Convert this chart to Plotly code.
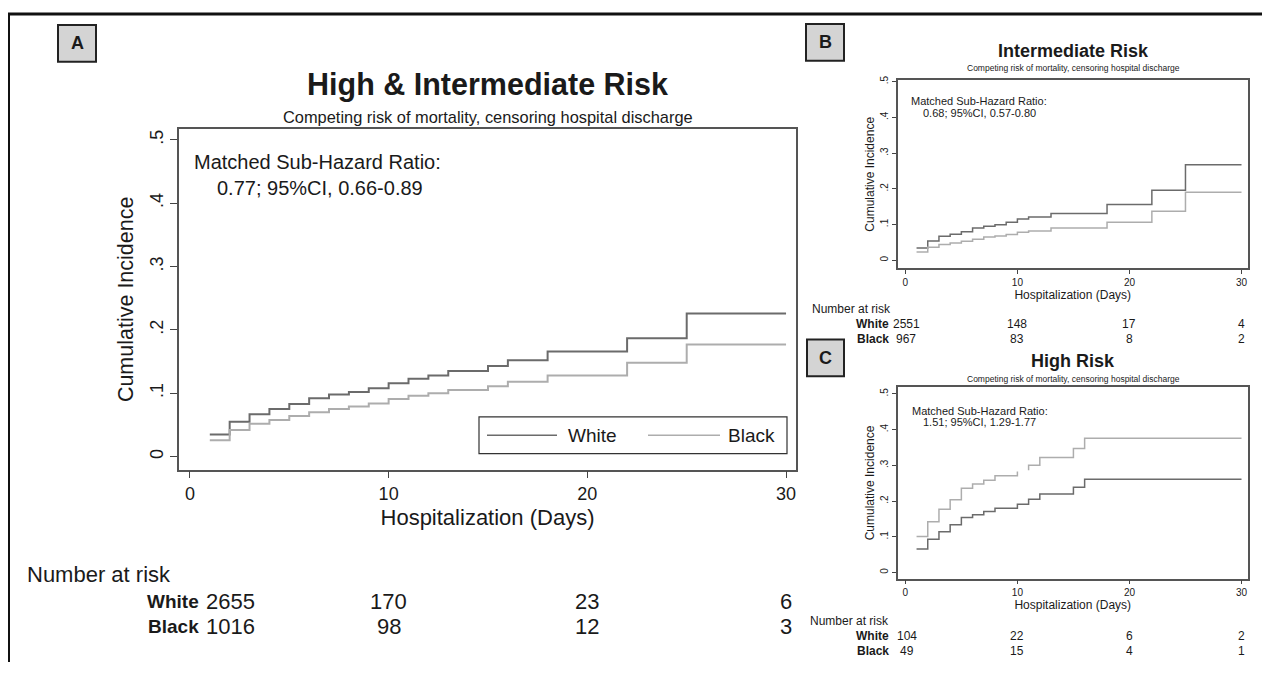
import plotly.graph_objects as go

# page has an 8px body margin; figure fills the rest of the 1270x673 window
OFF = 8
W, H = 1262, 665

# ---------------- data ----------------
days_A = [1, 2, 3, 4, 5, 6, 7, 8, 9, 10, 11, 12, 13, 15, 16, 18, 22, 25, 30]
white_A = [0.035, 0.055, 0.067, 0.075, 0.083, 0.092, 0.098, 0.102, 0.108, 0.116,
           0.123, 0.128, 0.135, 0.143, 0.152, 0.166, 0.187, 0.226, 0.226]
black_A = [0.026, 0.042, 0.052, 0.058, 0.064, 0.070, 0.075, 0.079, 0.084, 0.091,
           0.096, 0.100, 0.105, 0.111, 0.118, 0.128, 0.148, 0.177, 0.177]

days_B = [1, 2, 3, 4, 5, 6, 7, 8, 9, 10, 11, 13, 18, 22, 25, 30]
white_B = [0.034, 0.054, 0.067, 0.073, 0.080, 0.090, 0.095, 0.099, 0.106, 0.115,
           0.121, 0.131, 0.156, 0.196, 0.267, 0.267]
black_B = [0.023, 0.036, 0.044, 0.048, 0.053, 0.059, 0.065, 0.068, 0.072, 0.078,
           0.082, 0.090, 0.106, 0.137, 0.190, 0.190]

days_C_white = [1, 2, 3, 4, 5, 6, 7, 8, 10, 11, 12, 15, 16, 30]
white_C = [0.066, 0.093, 0.114, 0.134, 0.154, 0.162, 0.171, 0.180, 0.191, 0.205,
           0.220, 0.239, 0.261, 0.261]
days_C_black = [1, 2, 3, 4, 5, 6, 7, 8, 10, None, 11, 11, 12, 15, 16, 30]
black_C = [0.101, 0.142, 0.177, 0.204, 0.236, 0.248, 0.258, 0.271, 0.283, None,
           0.286, 0.300, 0.322, 0.347, 0.376, 0.376]

risk_times = [0, 10, 20, 30]
risk_white_A = [2655, 170, 23, 6]
risk_black_A = [1016, 98, 12, 3]
risk_white_B = [2551, 148, 17, 4]
risk_black_B = [967, 83, 8, 2]
risk_white_C = [104, 22, 6, 2]
risk_black_C = [49, 15, 4, 1]

x_ticks = [0, 10, 20, 30]
y_ticks = [0, 0.1, 0.2, 0.3, 0.4, 0.5]
y_ticklabels = ["0", ".1", ".2", ".3", ".4", ".5"]

COL_WHITE = "#6b6b6b"
COL_BLACK = "#adadad"
TXT = "#1a1a1a"
FONT = "Liberation Sans, Arial, sans-serif"


def px(x):
    return (x - OFF) / W


def py(y):
    return 1 - (y - OFF) / H


fig = go.Figure()


def add_steps(x, y, color, width, ax):
    fig.add_trace(go.Scatter(x=x, y=y, mode="lines", line=dict(color=color, width=width, shape="hv"),
                             connectgaps=False, showlegend=False, hoverinfo="skip",
                             xaxis="x" + ax, yaxis="y" + ax))


add_steps(days_A, white_A, COL_WHITE, 2, "")
add_steps(days_A, black_A, COL_BLACK, 2, "")
add_steps(days_B, white_B, COL_WHITE, 1.5, "2")
add_steps(days_B, black_B, COL_BLACK, 1.5, "2")
add_steps(days_C_white, white_C, COL_WHITE, 1.5, "3")
add_steps(days_C_black, black_C, COL_BLACK, 1.5, "3")


def xaxis(domain, rng, fsize, tlen, title, tfont, standoff, anchor):
    return dict(domain=domain, range=rng, tickvals=x_ticks, ticktext=[str(v) for v in x_ticks],
                ticks="outside", ticklen=tlen, tickcolor="#444", tickwidth=1,
                showline=True, mirror=True, linecolor="#555", linewidth=1.5,
                showgrid=False, zeroline=False, anchor=anchor,
                tickfont=dict(size=fsize, color=TXT, family=FONT),
                title=dict(text=title, font=dict(size=tfont, color=TXT, family=FONT), standoff=standoff))


def yaxis(domain, rng, fsize, tlen, title, tfont, standoff, anchor):
    return dict(domain=domain, range=rng, tickvals=y_ticks, ticktext=y_ticklabels,
                ticks="outside", ticklen=tlen, tickcolor="#444", tickwidth=1, tickangle=-90,
                showline=True, mirror=True, linecolor="#555", linewidth=1.5,
                showgrid=False, zeroline=False, anchor=anchor,
                tickfont=dict(size=fsize, color=TXT, family=FONT),
                title=dict(text=title, font=dict(size=tfont, color=TXT, family=FONT), standoff=standoff))


dom_x_A = [px(179), px(796)]
dom_y_A = [py(468), py(125)]
dom_x_BC = [px(897.5), px(1248)]
dom_y_B = [py(265), py(76)]
dom_y_C = [py(578), py(385)]

fig.update_layout(
    width=W, height=H, margin=dict(l=0, r=0, t=0, b=0),
    paper_bgcolor="white", plot_bgcolor="white",
    font=dict(family=FONT, color=TXT),
    showlegend=False,
    xaxis=xaxis(dom_x_A, [-0.55, 30.5], 18, 7, "Hospitalization (Days)", 22, 7, "y"),
    yaxis=yaxis(dom_y_A, [-0.0204, 0.517], 18, 7, "Cumulative Incidence", 21.5, 8, "x"),
    xaxis2=xaxis(dom_x_BC, [-0.7, 30.58], 10, 4, "Hospitalization (Days)", 12, 2, "y2"),
    yaxis2=yaxis(dom_y_B, [-0.022, 0.503], 10, 4, "Cumulative Incidence", 12, 2, "x2"),
    xaxis3=xaxis(dom_x_BC, [-0.7, 30.58], 10, 4, "Hospitalization (Days)", 12, 2, "y3"),
    yaxis3=yaxis(dom_y_C, [-0.0175, 0.519], 10, 4, "Cumulative Incidence", 12, 2, "x3"),
)

ann = []
shapes = []


def text(x, y, s, size, anchor="center", bold=False, xref="paper", yref="paper", xshift=0, color=TXT):
    ann.append(dict(x=x, y=y, xref=xref, yref=yref, text=("<b>%s</b>" % s) if bold else s,
                    showarrow=False, xanchor=anchor, yanchor="middle", xshift=xshift,
                    font=dict(size=size, color=color, family=FONT)))


# outer frame (top and left rules)
shapes.append(dict(type="line", xref="paper", yref="paper", x0=px(8), x1=1, y0=py(9), y1=py(9),
                   line=dict(color="#111", width=3)))
shapes.append(dict(type="line", xref="paper", yref="paper", x0=px(9), x1=px(9), y0=py(8), y1=py(662),
                   line=dict(color="#111", width=2)))

# panel letter boxes
for letter, (x0, y0, x1, y1) in {"A": (58, 20, 96, 57), "B": (806, 19, 844, 56), "C": (807, 337, 844, 374)}.items():
    shapes.append(dict(type="rect", xref="paper", yref="paper", x0=px(x0), x1=px(x1), y0=py(y1), y1=py(y0),
                       fillcolor="#d4d4d4", line=dict(color="#222", width=2), layer="above"))
    text(px((x0 + x1) / 2), py((y0 + y1) / 2), letter, 18, bold=True)

# titles
text(px(487.5), py(80), "High &amp; Intermediate Risk", 30.5, bold=True)
text(px(487.5), py(113), "Competing risk of mortality, censoring hospital discharge", 16.4)
text(px(1073), py(46), "Intermediate Risk", 18, bold=True)
text(px(1073), py(63), "Competing risk of mortality, censoring hospital discharge", 8.5)
text(px(1073), py(359), "High Risk", 18, bold=True)
text(px(1073), py(377), "Competing risk of mortality, censoring hospital discharge", 8.5)

# SHR annotations
text(px(192), py(158), "Matched Sub-Hazard Ratio:", 20, anchor="left")
text(px(215), py(184), "0.77; 95%CI, 0.66-0.89", 20, anchor="left")
text(px(909), py(97), "Matched Sub-Hazard Ratio:", 11, anchor="left")
text(px(921), py(109), "0.68; 95%CI, 0.57-0.80", 11, anchor="left")
text(px(910), py(409), "Matched Sub-Hazard Ratio:", 11, anchor="left")
text(px(921), py(420), "1.51; 95%CI, 1.29-1.77", 11, anchor="left")

# legend in A
shapes.append(dict(type="rect", xref="paper", yref="paper", x0=px(479), x1=px(787), y0=py(452), y1=py(415),
                   fillcolor="white", line=dict(color="#333", width=1.2)))
shapes.append(dict(type="line", xref="paper", yref="paper", x0=px(487), x1=px(557), y0=py(433.5), y1=py(433.5),
                   line=dict(color=COL_WHITE, width=1.5)))
shapes.append(dict(type="line", xref="paper", yref="paper", x0=px(648), x1=px(720), y0=py(433.5), y1=py(433.5),
                   line=dict(color=COL_BLACK, width=1.5)))
text(px(566), py(433.5), "White", 19, anchor="left")
text(px(777), py(433.5), "Black", 19, anchor="right")


def risk_table(xref, y_head, y_w, y_b, lab_right, head_x, hsize, lsize, size, wvals, bvals,
               first_shift, first_anchor):
    text(px(head_x), py(y_head), "Number at risk", hsize, anchor="left")
    text(px(lab_right), py(y_w), "White", lsize, anchor="right", bold=True)
    text(px(lab_right), py(y_b), "Black", lsize, anchor="right", bold=True)
    for i, t in enumerate(risk_times):
        anchor = first_anchor if i == 0 else "center"
        shift = first_shift if i == 0 else 0
        text(t, py(y_w), str(wvals[i]), size, anchor=anchor, xref=xref, xshift=shift)
        text(t, py(y_b), str(bvals[i]), size, anchor=anchor, xref=xref, xshift=shift)


risk_table("x", 574, 601, 626, 201, 25, 22, 19, 22, risk_white_A, risk_black_A, 14, "left")
risk_table("x2", 306, 321.5, 336.5, 891, 810, 12, 12, 12, risk_white_B, risk_black_B, 1, "center")
risk_table("x3", 621, 635.5, 650.5, 891, 808, 12, 12, 12, risk_white_C, risk_black_C, 2, "center")

fig.update_layout(annotations=ann, shapes=shapes)
fig.write_html("out.html")
